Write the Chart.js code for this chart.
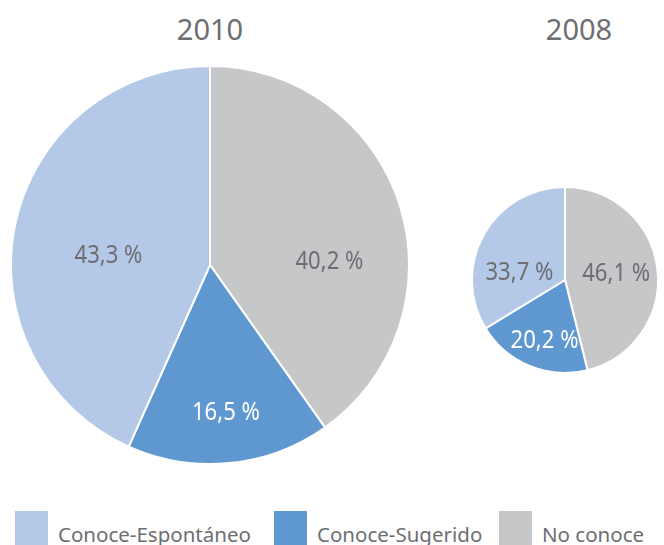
<!DOCTYPE html>
<html>
<head>
<meta charset="utf-8">
<script src="https://cdn.jsdelivr.net/npm/chart.js@4"></script>
<style>
  html, body { margin: 0; padding: 0; background: #fff; }
  body { width: 664px; height: 545px; position: relative; overflow: hidden; font-family: "Noto Sans", "Open Sans", sans-serif; color: #6d6e71; }
  .title { position: absolute; font-size: 29px; line-height: 1; text-align: center; width: 120px; }
  canvas { position: absolute; }
  .leg { position: absolute; top: 511px; font-size: 20.5px; line-height: 1; white-space: nowrap; }
  .leg span.box { position: absolute; left: 0; top: 0; width: 33px; height: 34px; }
  .leg span.txt { position: absolute; top: 13px; }
</style>
</head>
<body>
<div class="title" style="left:150px; top:14px;">2010</div>
<div class="title" style="left:519px; top:14px;">2008</div>
<canvas id="pie2010" width="400" height="400" style="left:10px; top:65px;"></canvas>
<canvas id="pie2008" width="188" height="188" style="left:471px; top:186px;"></canvas>
<div id="legend"></div>
<script>
  // Data, legend order
  const categories = ['Conoce-Espontáneo', 'Conoce-Sugerido', 'No conoce'];
  const values2010 = [43.3, 16.5, 40.2];
  const values2008 = [33.7, 20.2, 46.1];
  const colors = ['#b4c9e7', '#5f98d0', '#c6c7c9'];
  const labelColors = ['#6d6e71', '#ffffff', '#6d6e71'];

  // label offsets relative to pie centre, in radii (dx, dy)
  const labelPos2010 = [[-0.51, -0.045], [0.08, 0.74], [0.60, -0.015]];
  const labelPos2008 = [[-0.49, -0.08], [-0.22, 0.65], [0.55, -0.065]];

  // pies run clockwise from the top starting with "No conoce"
  const order = [2, 1, 0];

  const sliceLabels = {
    id: 'sliceLabels',
    afterDatasetsDraw(chart, args, opts) {
      const c = chart.ctx;
      const arcs = chart.getDatasetMeta(0).data;
      arcs.forEach((arc, i) => {
        const k = order[i];
        const v = chart.data.datasets[0].data[i];
        const p = opts.pos[k];
        const x = arc.x + p[0] * arc.outerRadius;
        const y = arc.y + p[1] * arc.outerRadius;
        c.save();
        c.font = opts.font;
        c.textAlign = 'center';
        c.textBaseline = 'middle';
        c.fillStyle = labelColors[k];
        // squeeze horizontally to look like a condensed face
        c.translate(x, y);
        c.scale(0.85, 1);
        c.fillText(v.toFixed(1).replace('.', ',') + ' %', 0, 0);
        c.restore();
      });
    }
  };

  function makePie(id, values, pos) {
    new Chart(document.getElementById(id), {
      type: 'pie',
      data: {
        labels: order.map(i => categories[i]),
        datasets: [{
          data: order.map(i => values[i]),
          backgroundColor: order.map(i => colors[i]),
          borderColor: '#ffffff',
          borderWidth: 2
        }]
      },
      options: {
        responsive: false,
        animation: false,
        layout: { padding: 0 },
        plugins: {
          legend: { display: false },
          tooltip: { enabled: false },
          sliceLabels: { pos: pos, font: '26px "Noto Sans", sans-serif' }
        }
      },
      plugins: [sliceLabels]
    });
  }

  makePie('pie2010', values2010, labelPos2010);
  makePie('pie2008', values2008, labelPos2008);

  // legend
  const legendX = [15, 274, 499];
  const legend = document.getElementById('legend');
  categories.forEach((name, i) => {
    const d = document.createElement('div');
    d.className = 'leg';
    d.style.left = legendX[i] + 'px';
    d.innerHTML = '<span class="box" style="background:' + colors[i] + '"></span><span class="txt" style="left:43px">' + name + '</span>';
    legend.appendChild(d);
  });
</script>
</body>
</html>
